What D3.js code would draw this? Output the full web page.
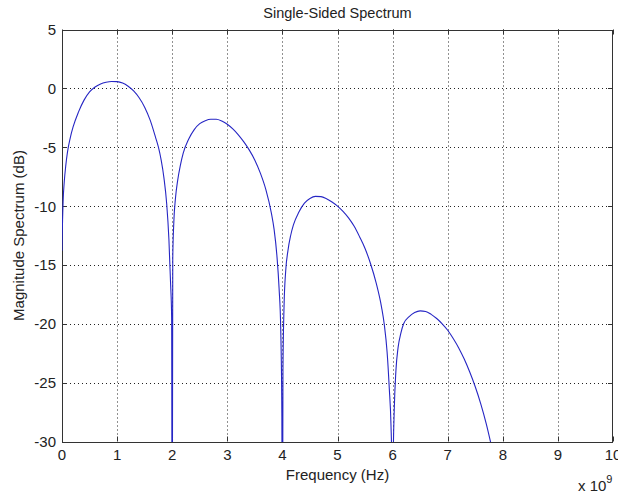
<!DOCTYPE html>
<html>
<head>
<meta charset="utf-8">
<script src="https://cdn.jsdelivr.net/npm/d3@7"></script>
<style>
  html, body { margin: 0; padding: 0; background: #fff; }
  svg text { font-family: "Liberation Sans", Arial, Helvetica, sans-serif; fill: #222; }
</style>
</head>
<body>
<div id="svg-container"></div>
<script>
// Data ---------------------------------------------------------------------------------------------------
// frequency in units of 1e9 Hz, magnitude in dB
const freqGHz = [
  0, 0.005, 0.01, 0.02, 0.04, 0.07, 0.1, 0.15, 0.2, 0.3, 0.4, 0.5, 0.6, 0.7, 0.8, 0.9, 1.0,
  1.1, 1.2, 1.3, 1.4, 1.5, 1.6, 1.7, 1.75, 1.8, 1.85, 1.9, 1.94, 1.97, 1.99, 2.0,
  2.01, 2.03, 2.06, 2.1, 2.15, 2.2, 2.3, 2.4, 2.5, 2.6, 2.7, 2.8, 2.9, 3.0,
  3.1, 3.2, 3.3, 3.4, 3.5, 3.6, 3.7, 3.8, 3.85, 3.9, 3.94, 3.97, 3.99, 4.0,
  4.01, 4.03, 4.06, 4.1, 4.15, 4.2, 4.3, 4.4, 4.5, 4.6, 4.7, 4.8, 4.9, 5.0,
  5.1, 5.2, 5.3, 5.4, 5.5, 5.6, 5.7, 5.8, 5.85, 5.9, 5.94, 5.97, 5.99, 6.0,
  6.01, 6.03, 6.06, 6.1, 6.15, 6.2, 6.3, 6.4, 6.5, 6.6, 6.7, 6.8, 6.9, 7.0,
  7.1, 7.2, 7.3, 7.4, 7.5, 7.6, 7.7, 7.8, 7.9
];
const magDb = [
  -13.8, -12.3, -11.2, -9.6, -8.0, -6.5, -5.4, -4.2, -3.3, -2.0, -1.0, -0.3, 0.12, 0.38, 0.52, 0.58, 0.57,
  0.45, 0.18, -0.22, -0.8, -1.6, -2.7, -4.2, -5.0, -6.1, -7.6, -9.8, -12.8, -16.5, -19.5, -45,
  -14.5, -11.3, -9.3, -7.8, -6.5, -5.5, -4.3, -3.5, -3.0, -2.75, -2.63, -2.63, -2.78, -3.05,
  -3.45, -3.95, -4.55, -5.25, -6.1, -7.2, -8.6, -10.6, -12.0, -14.2, -17.0, -20.5, -27.6, -45,
  -24.0, -18.5, -15.5, -13.8, -12.5, -11.6, -10.5, -9.75, -9.35, -9.18, -9.2, -9.38, -9.65, -10.0,
  -10.45, -11.0, -11.7, -12.6, -13.6, -14.9, -16.5, -18.6, -20.1, -22.4, -25.5, -28.5, -33, -50,
  -32, -27.3, -24.0, -22.0, -20.8, -20.0, -19.4, -19.05, -18.9, -18.95, -19.2, -19.55, -20.0, -20.55,
  -21.25, -22.05, -23.0, -24.1, -25.35, -26.8, -28.5, -30.5, -32.6
];

const xTicks = [0, 1, 2, 3, 4, 5, 6, 7, 8, 9, 10];
const yTicks = [-30, -25, -20, -15, -10, -5, 0, 5];

const spectrum = freqGHz.map((f, i) => ({f: f, db: magDb[i]}));

// Graph Dimensions ---------------------------------------------------------------------------------------
const width = 618,
      height = 493;
const box = {left: 62, right: 613, top: 29.5, bottom: 441.5};

// SVG ----------------------------------------------------------------------------------------------------
const svg = d3.select("#svg-container")
.append("svg")
.attr("width", width)
.attr("height", height);

const x = d3.scaleLinear()
.domain([0, 10])
.range([box.left, box.right]);

const y = d3.scaleLinear()
.domain([-30, 5])
.range([box.bottom, box.top]);

// Grid ---------------------------------------------------------------------------------------------------
const grid = svg.append("g")
.attr("stroke", "#222")
.attr("stroke-width", 1)
.attr("stroke-dasharray", "1,3");

grid.selectAll(".vgrid")
.data(xTicks.slice(1, -1))
.enter().append("line")
.attr("class", "vgrid")
.attr("x1", d => Math.round(x(d)) + 0.5)
.attr("x2", d => Math.round(x(d)) + 0.5)
.attr("y1", box.top)
.attr("y2", box.bottom);

grid.selectAll(".hgrid")
.data(yTicks.slice(1, -1))
.enter().append("line")
.attr("class", "hgrid")
.attr("x1", box.left)
.attr("x2", box.right)
.attr("y1", d => Math.round(y(d)) + 0.5)
.attr("y2", d => Math.round(y(d)) + 0.5);

// Axes ---------------------------------------------------------------------------------------------------
const tickLen = 5;
const axisColor = "#333";

const axisG = svg.append("g")
.attr("stroke", axisColor)
.attr("stroke-width", 1);

// box
axisG.append("rect")
.attr("x", box.left + 0.5)
.attr("y", Math.round(box.top) + 0.5)
.attr("width", box.right - box.left - 1)
.attr("height", Math.round(box.bottom) - Math.round(box.top))
.attr("fill", "none");

// x ticks, bottom and top
xTicks.forEach(t => {
  const px = Math.round(x(t)) + 0.5;
  axisG.append("line").attr("x1", px).attr("x2", px)
  .attr("y1", box.bottom).attr("y2", box.bottom - tickLen);
  axisG.append("line").attr("x1", px).attr("x2", px)
  .attr("y1", box.top).attr("y2", box.top + tickLen);
});

// y ticks, left and right
yTicks.forEach(t => {
  const py = Math.round(y(t)) + 0.5;
  axisG.append("line").attr("x1", box.left).attr("x2", box.left + tickLen)
  .attr("y1", py).attr("y2", py);
  axisG.append("line").attr("x1", box.right).attr("x2", box.right - tickLen)
  .attr("y1", py).attr("y2", py);
});

// Spectrum line (drawn over the axes, as in the original) ------------------------------------------------
svg.append("clipPath")
.attr("id", "plot-clip")
.append("rect")
.attr("x", box.left)
.attr("y", box.top)
.attr("width", box.right - box.left)
.attr("height", box.bottom - box.top + 0.5);

const line = d3.line()
.curve(d3.curveMonotoneX)
.x(d => x(d.f))
.y(d => y(d.db));

svg.append("path")
.datum(spectrum)
.attr("clip-path", "url(#plot-clip)")
.attr("d", line)
.attr("fill", "none")
.attr("stroke", "#2626c4")
.attr("stroke-width", 1.1);

// Tick labels --------------------------------------------------------------------------------------------
svg.selectAll(".xlabel")
.data(xTicks)
.enter().append("text")
.attr("class", "xlabel")
.attr("x", d => x(d))
.attr("y", 460)
.attr("text-anchor", "middle")
.style("font-size", "15px")
.text(d => d);

svg.selectAll(".ylabel")
.data(yTicks)
.enter().append("text")
.attr("class", "ylabel")
.attr("x", 56)
.attr("y", d => y(d) + 5.5)
.attr("text-anchor", "end")
.style("font-size", "15px")
.text(d => d);

// Titles -------------------------------------------------------------------------------------------------
svg.append("text")
.attr("x", (box.left + box.right) / 2)
.attr("y", 18)
.attr("text-anchor", "middle")
.style("font-size", "14.5px")
.text("Single-Sided Spectrum");

svg.append("text")
.attr("x", (box.left + box.right) / 2)
.attr("y", 480)
.attr("text-anchor", "middle")
.style("font-size", "15px")
.text("Frequency (Hz)");

svg.append("text")
.attr("transform", `translate(24, ${(box.top + box.bottom) / 2}) rotate(-90)`)
.attr("text-anchor", "middle")
.style("font-size", "15px")
.text("Magnitude Spectrum (dB)");

// exponent label
const expo = svg.append("text")
.attr("x", 578)
.attr("y", 491)
.style("font-size", "15px");
expo.append("tspan").text("x 10");
expo.append("tspan")
.attr("dy", -8)
.style("font-size", "11px")
.text("9");
</script>
</body>
</html>
